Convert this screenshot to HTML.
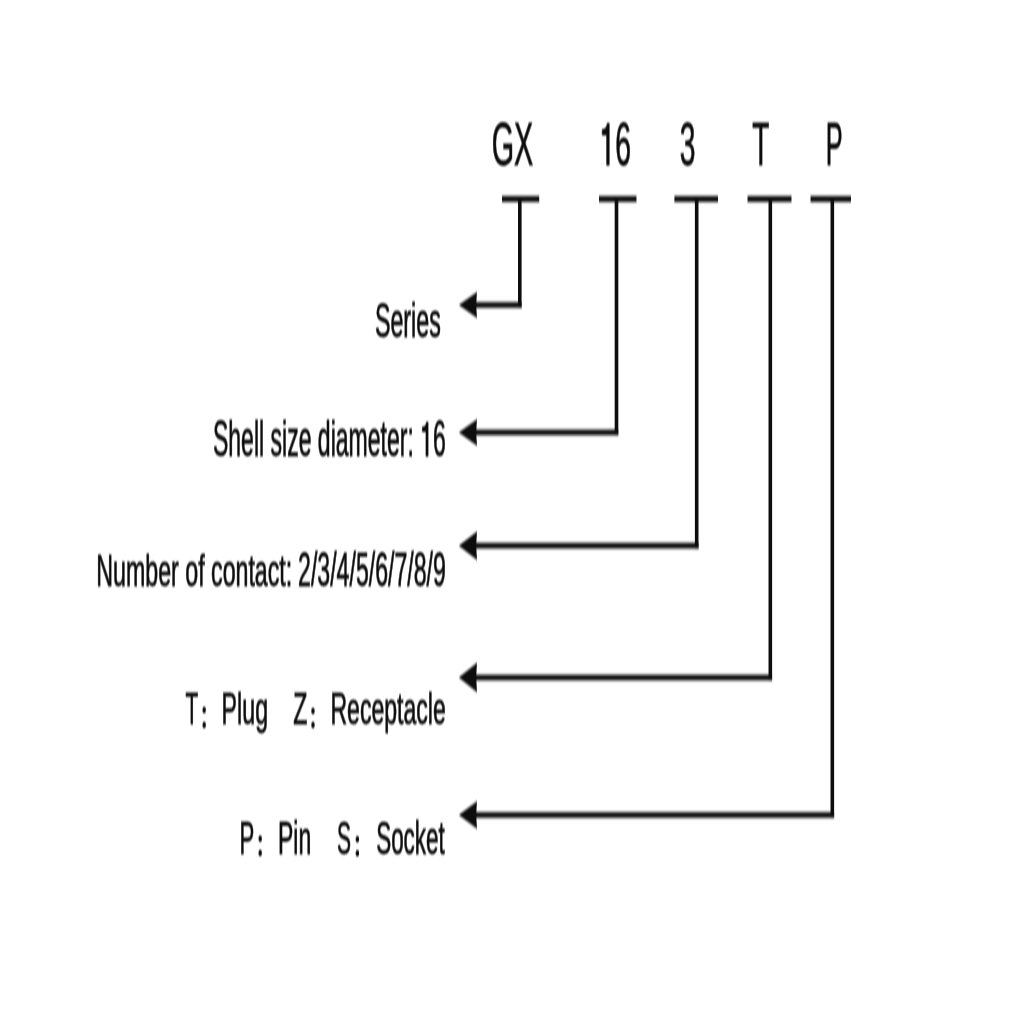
<!DOCTYPE html>
<html><head><meta charset="utf-8"><style>
html,body{margin:0;padding:0;background:#fff;width:1024px;height:1024px;overflow:hidden}
svg{display:block}
text{font-family:"Liberation Sans",sans-serif;font-kerning:none;fill:#111;stroke:#111;stroke-width:0.7px;vector-effect:non-scaling-stroke}
path{fill:#111;stroke:#111;stroke-width:0.7px;vector-effect:non-scaling-stroke}
</style></head><body>
<svg width="1024" height="1024" viewBox="0 0 1024 1024">
<rect width="1024" height="1024" fill="#fff"/>
<defs><filter id="bl" x="-5%" y="-5%" width="110%" height="110%"><feGaussianBlur stdDeviation="0.5 1.5"/></filter><filter id="bt" x="-5%" y="-5%" width="110%" height="110%"><feGaussianBlur stdDeviation="0.5 1.0"/></filter></defs>
<g id="m" fill="#111" filter="url(#bl)">
<rect x="502" y="196.0" width="37.200000000000045" height="6"/>
<rect x="518.0" y="199" width="3.6" height="108.7"/>
<polygon points="458.8,305 477,292.0 476.2,305 477,318.0"/><rect x="475" y="302.15" width="46.59999999999991" height="5.7"/>
<rect x="599" y="196.0" width="37.5" height="6"/>
<rect x="614.7" y="199" width="3.6" height="236.09999999999997"/>
<polygon points="458.8,432.4 477,419.15 476.2,432.4 477,445.65"/><rect x="475" y="429.54999999999995" width="143.29999999999995" height="5.7"/>
<rect x="674.4" y="196.0" width="43.60000000000002" height="6"/>
<rect x="694.9000000000001" y="199" width="3.6" height="349.40000000000003"/>
<polygon points="458.8,545.7 477,531.45 476.2,545.7 477,559.95"/><rect x="475" y="542.85" width="223.5" height="5.7"/>
<rect x="747.5" y="196.0" width="44.0" height="6"/>
<rect x="768.5" y="199" width="3.6" height="481.3"/>
<polygon points="458.8,677.6 477,662.85 476.2,677.6 477,692.35"/><rect x="475" y="674.75" width="297.0999999999999" height="5.7"/>
<rect x="810.5" y="196.0" width="40.5" height="6"/>
<rect x="830.5" y="199" width="3.6" height="618.7"/>
<polygon points="458.8,815 477,801.25 476.2,815 477,828.75"/><rect x="475" y="812.15" width="359.0999999999999" height="5.7"/>
</g>
<g id="t" fill="#111" filter="url(#bt)">
<g transform="translate(491.75,165.20) scale(0.4711,1)"><text x="0.00" font-size="61.05">GX</text></g>
<g transform="translate(599.54,165.20) scale(0.4656,1)"><path transform="translate(0.00,0) scale(0.02981,-0.02981)" d="M515 0H696V1409H560C540 1330 480 1250 360 1222C300 1208 240 1204 197 1202V1010H515Z"/><text x="33.95" font-size="61.05">6</text></g>
<g transform="translate(679.82,165.20) scale(0.4630,1)"><text x="0.00" font-size="61.05">3</text></g>
<g transform="translate(752.27,165.20) scale(0.4577,1)"><text x="0.00" font-size="61.05">T</text></g>
<g transform="translate(825.82,165.20) scale(0.4155,1)"><text x="0.00" font-size="61.05">P</text></g>
<g transform="translate(374.94,337.20) scale(0.4818,1)"><text x="0.00" font-size="48.26">Series</text></g>
<g transform="translate(212.95,456.30) scale(0.4617,1)"><text x="0.00" font-size="49.86">Shell size diameter: </text><path transform="translate(448.89,0) scale(0.02434,-0.02434)" d="M515 0H696V1409H560C540 1330 480 1250 360 1222C300 1208 240 1204 197 1202V1010H515Z"/><text x="476.62" font-size="49.86">6</text></g>
<g transform="translate(96.30,585.60) scale(0.5166,1)"><text x="0.00" font-size="44.91">Number of contact:</text></g>
<g transform="translate(298.04,586.30) scale(0.4821,1)"><text x="0.00" font-size="47.97">2/3/4/5/6/7/8/9</text></g>
<g transform="translate(185.43,723.90) scale(0.4647,1)"><text x="0.00" font-size="44.91">T</text></g>
<g transform="translate(221.59,723.90) scale(0.5173,1)"><text x="0.00" font-size="44.91">Plug</text></g>
<g transform="translate(293.16,723.90) scale(0.5161,1)"><text x="0.00" font-size="44.91">Z</text></g>
<g transform="translate(330.41,723.90) scale(0.5137,1)"><text x="0.00" font-size="44.91">Receptacle</text></g>
<ellipse cx="204.2" cy="710" rx="1.7" ry="3.25"/><ellipse cx="204.2" cy="725" rx="1.7" ry="3.25"/>
<ellipse cx="313" cy="711" rx="1.7" ry="3.25"/><ellipse cx="313" cy="725" rx="1.7" ry="3.25"/>
<g transform="translate(239.38,853.60) scale(0.4708,1)"><text x="0.00" font-size="47.09">P</text></g>
<g transform="translate(278.01,853.60) scale(0.4890,1)"><text x="0.00" font-size="47.09">Pin</text></g>
<g transform="translate(336.95,853.60) scale(0.4463,1)"><text x="0.00" font-size="47.09">S</text></g>
<g transform="translate(376.18,853.60) scale(0.4764,1)"><text x="0.00" font-size="47.09">Socket</text></g>
<ellipse cx="260.2" cy="838.8" rx="1.7" ry="3.25"/><ellipse cx="260.2" cy="853.1" rx="1.7" ry="3.25"/>
<ellipse cx="357.4" cy="839.2" rx="1.7" ry="3.25"/><ellipse cx="357.4" cy="853.3" rx="1.7" ry="3.25"/>
</g>
</svg>
</body></html>
